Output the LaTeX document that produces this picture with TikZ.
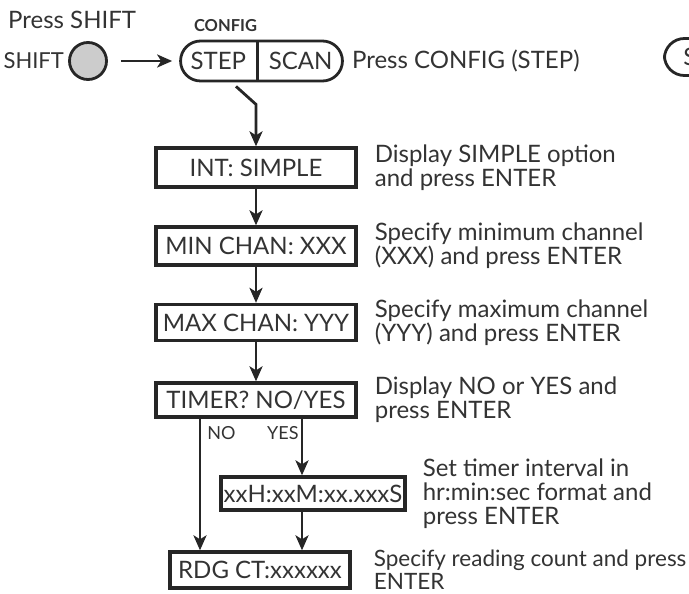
\documentclass[tikz,border=0pt]{standalone}
\usepackage{fontspec}
\setmainfont{Lato}
\usetikzlibrary{arrows.meta, shapes.multipart, positioning}

\begin{document}
\begin{tikzpicture}[x=1pt, y=-1pt, >={Stealth[length=15pt, width=13pt, inset=4pt]},
  every node/.style={text=black!80, font=\fontsize{24}{24}\selectfont},
  disp/.style={draw=black!85, line width=3.3pt, on grid, minimum height=38pt, minimum width=200pt, inner sep=0pt},
  desc/.style={align=left, inner sep=0pt},
  key/.style={draw=black!85, line width=2.8pt, rounded corners=20pt, minimum height=40pt},
  lbl/.style={inner sep=0pt, font=\fontsize{18}{18}\selectfont},
  flow/.style={->, color=black!85, line width=2.8pt}]
\useasboundingbox (0,0) rectangle (689,594);
\clip (0,0) rectangle (689,594);

\node[anchor=west, inner sep=0pt] (pshift) at (8,20) {Press SHIFT};
\node[circle, draw=black!85, line width=2.8pt, fill=black!20, minimum size=37pt, inner sep=0pt] (shift) at (88,61) {};
\node[left=4pt of shift, inner sep=0pt, font=\fontsize{22}{22}\selectfont] (shiftl) {SHIFT};
\node[key, rectangle split, rectangle split horizontal, rectangle split parts=2, inner xsep=10pt, inner ysep=11pt] (cfgkey) at (261.5,61) {STEP\nodepart{two}SCAN};
\node[font=\bfseries\fontsize{16.5}{16.5}\selectfont, inner sep=0pt, above=8pt of cfgkey.north, xshift=-36pt] (cfg) {CONFIG};
\node[right=8pt of cfgkey, inner sep=0pt] (pcfg) {Press CONFIG (STEP)};
\node[key, anchor=west, minimum height=37pt, text width=60pt, align=left, inner xsep=19pt, inner ysep=0pt] (nextkey) at (663,57) {S};

\node[disp, minimum height=39pt] (int) at (256,167.5) {INT: SIMPLE};
\node[disp, below=78.5pt of int] (minc) {MIN CHAN: XXX};
\node[disp, below=76.5pt of minc, minimum height=36pt] (maxc) {MAX CHAN: YYY};
\node[disp, below=77.5pt of maxc, minimum height=34pt] (tmr) {TIMER? NO/YES};
\node[disp, below=93.5pt of tmr, xshift=57pt, minimum width=184pt, minimum height=33pt] (ival) {xxH:xxM:xx.xxxS};
\node[disp, below=76.5pt of ival, xshift=-53pt, minimum width=180pt, minimum height=36pt] (rdg) {RDG CT:xxxxxx};

\node[desc, right=17pt of int] (intd) {Display SIMPLE option\\and press ENTER};
\node[desc, right=17pt of minc] (mind) {Specify minimum channel\\(XXX) and press ENTER};
\node[desc, right=17pt of maxc] (maxd) {Specify maximum channel\\(YYY) and press ENTER};
\node[desc, right=17pt of tmr] (tmrd) {Display NO or YES and\\press ENTER};
\node[desc, right=16pt of ival] (ivald) {Set timer interval in\\hr:min:sec format and\\press ENTER};
\node[desc, right=22pt of rdg, font=\fontsize{22.5}{23}\selectfont] (rdgd) {Specify reading count and press\\ENTER};

\draw[flow] ([xshift=-25.5pt,yshift=-4pt]cfgkey.south) -- ([yshift=-22pt]cfgkey.south -| int.north) -- (int.north);
\path[flow]
  (shift) edge[shorten <=13pt, shorten >=7pt] (cfgkey)
  (int) edge (minc)
  (minc) edge (maxc)
  (maxc) edge (tmr)
  ([xshift=-56pt]tmr.south) edge node[lbl, pos=0.11, right=6pt] {NO} ([xshift=-56pt]tmr.south |- rdg.north)
  ([xshift=46pt]tmr.south) edge node[lbl, pos=0.25, left=2pt] {YES} ([xshift=46pt]tmr.south |- ival.north)
  ([xshift=-11pt]ival.south) edge ([xshift=-11pt]ival.south |- rdg.north)
  ;
\end{tikzpicture}
\end{document}
